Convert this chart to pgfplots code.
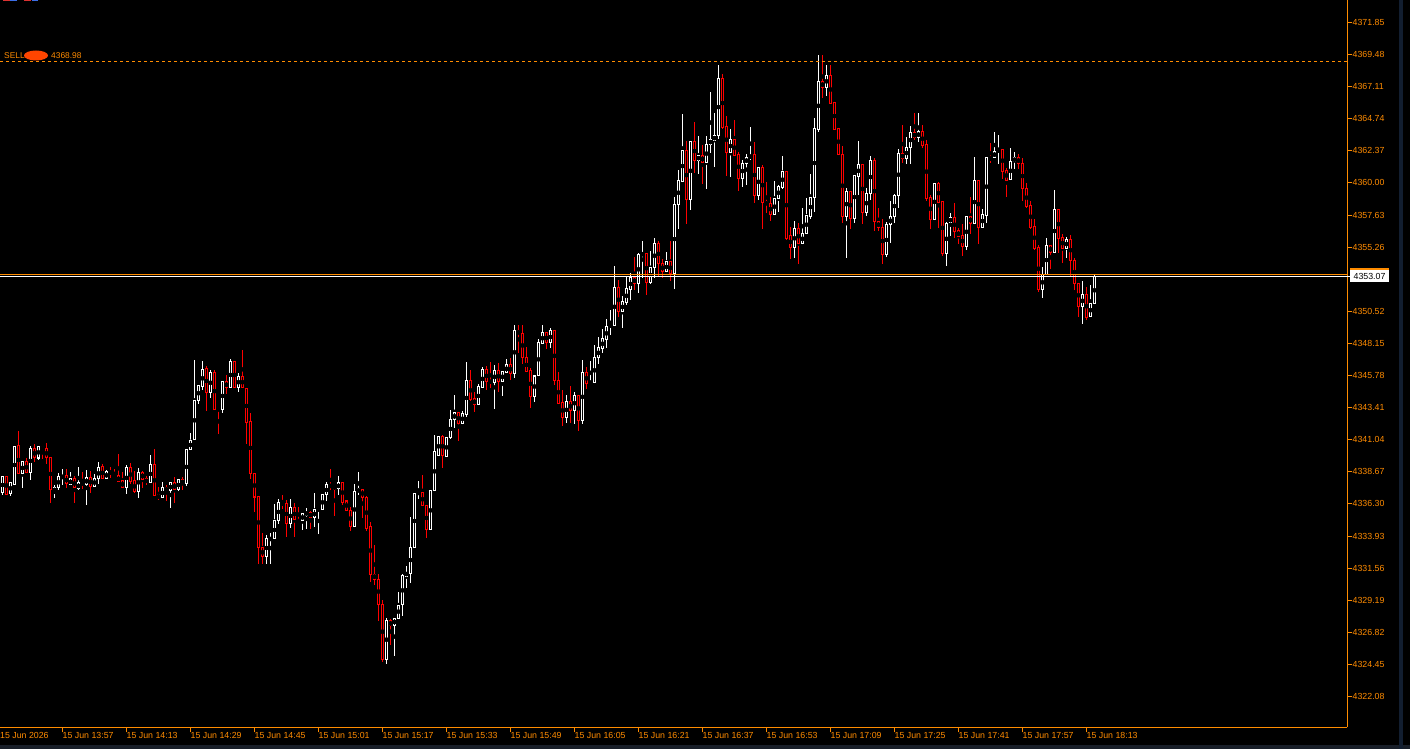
\documentclass[border=0pt]{standalone}
\usepackage{fontspec}
\setmainfont{Liberation Sans}
\usepackage{pgfplots}
\usepackage{pgfplotstable}
\pgfplotsset{compat=1.18}

\definecolor{mtorange}{RGB}{255,140,0}
\definecolor{mtred}{RGB}{255,0,0}
\definecolor{mtstrip}{RGB}{24,30,40}
\definecolor{mtnavy}{RGB}{18,30,48}
\definecolor{mtblot}{RGB}{255,69,0}
\definecolor{btnred}{RGB}{220,50,50}
\definecolor{btnblue}{RGB}{60,110,230}

% one-minute candles, i = minutes after 13:42
\pgfplotstableread{
i o h l c
0 4337.12 4338.37 4337.04 4338.30
1 4338.30 4338.37 4337.04 4337.04
2 4337.04 4337.86 4336.89 4337.86
3 4337.78 4340.59 4337.78 4340.59
4 4340.59 4341.63 4338.52 4338.52
5 4338.52 4339.41 4337.56 4339.41
6 4339.41 4339.63 4338.60 4338.60
7 4338.60 4340.52 4338.08 4340.37
8 4340.37 4340.66 4339.41 4339.70
9 4339.70 4340.52 4339.56 4340.52
10 4340.52 4340.52 4339.70 4340.30
11 4340.37 4340.74 4339.26 4339.70
12 4339.70 4339.70 4336.38 4337.34
13 4337.19 4337.63 4336.75 4337.49
14 4337.49 4338.52 4337.34 4338.30
15 4338.23 4338.82 4337.78 4338.37
16 4338.37 4338.89 4337.56 4337.78
17 4337.71 4338.60 4337.71 4338.15
18 4338.15 4338.30 4336.38 4337.49
19 4337.41 4339.04 4337.41 4337.86
20 4337.86 4338.60 4337.41 4337.78
21 4337.71 4338.74 4336.23 4338.23
22 4338.23 4338.74 4337.19 4337.63
23 4337.63 4338.45 4337.56 4338.15
24 4338.15 4339.33 4337.78 4338.97
25 4339.04 4339.19 4338.15 4338.15
26 4338.15 4338.74 4338.15 4338.67
27 4338.67 4339.04 4338.23 4338.52
28 4338.52 4338.82 4338.23 4338.23
29 4338.37 4339.93 4337.93 4337.93
30 4338.00 4338.60 4337.49 4337.49
31 4337.49 4339.11 4337.04 4338.97
32 4338.97 4339.26 4337.78 4338.00
33 4338.00 4338.67 4337.12 4337.19
34 4337.19 4338.89 4336.75 4338.60
35 4338.60 4338.67 4337.49 4338.15
36 4338.15 4338.30 4337.78 4337.86
37 4337.86 4339.85 4337.86 4339.19
38 4339.19 4340.30 4336.90 4336.90
39 4336.97 4337.49 4336.60 4336.75
40 4336.75 4337.86 4336.75 4337.49
41 4337.49 4337.71 4336.60 4337.27
42 4337.27 4337.86 4336.08 4337.86
43 4337.86 4338.23 4336.38 4337.34
44 4337.34 4338.08 4337.27 4338.08
45 4338.08 4338.23 4337.41 4337.78
46 4337.78 4340.30 4337.63 4340.30
47 4340.30 4341.48 4340.30 4341.03
48 4341.03 4346.87 4341.03 4343.92
49 4343.92 4345.03 4343.69 4345.03
50 4344.95 4346.80 4344.73 4346.21
51 4346.28 4346.43 4343.18 4344.51
52 4344.51 4346.13 4344.14 4345.99
53 4345.99 4346.13 4343.25 4343.25
54 4343.33 4343.33 4341.48 4343.25
55 4343.25 4345.32 4343.03 4345.32
56 4345.32 4345.76 4344.43 4344.88
57 4344.88 4346.95 4344.88 4346.80
58 4346.80 4346.80 4344.88 4344.88
59 4344.88 4345.91 4344.58 4345.69
60 4345.69 4347.61 4344.88 4344.88
61 4344.80 4344.80 4340.74 4342.29
62 4342.36 4342.96 4338.15 4338.52
63 4338.52 4338.52 4335.71 4336.82
64 4336.82 4336.82 4331.94 4333.05
65 4333.05 4334.16 4331.94 4332.39
66 4332.39 4334.01 4331.94 4333.72
67 4333.64 4334.16 4331.94 4333.79
68 4333.72 4336.30 4333.72 4335.05
69 4335.05 4336.67 4334.83 4336.38
70 4336.38 4336.90 4336.01 4336.30
71 4336.30 4336.53 4333.87 4334.83
72 4334.83 4336.60 4334.53 4336.01
73 4336.01 4336.30 4333.87 4335.12
74 4335.12 4336.08 4334.97 4334.97
75 4335.05 4335.57 4334.46 4335.57
76 4335.49 4335.94 4334.46 4335.71
77 4335.71 4335.71 4334.46 4335.27
78 4335.27 4337.04 4334.61 4335.86
79 4335.86 4335.94 4334.16 4335.94
80 4335.86 4336.97 4335.86 4336.97
81 4336.97 4337.86 4336.53 4337.71
82 4337.71 4338.82 4337.34 4337.56
83 4337.63 4337.63 4335.49 4337.41
84 4337.41 4338.37 4337.04 4337.86
85 4337.86 4337.86 4336.30 4336.45
86 4336.53 4336.53 4335.79 4335.86
87 4335.86 4336.08 4334.38 4334.61
88 4334.61 4337.71 4334.61 4337.19
89 4337.19 4338.60 4337.04 4337.41
90 4337.41 4337.41 4335.27 4336.75
91 4336.82 4336.82 4334.31 4334.53
92 4334.61 4334.90 4330.54 4331.13
93 4331.13 4333.27 4330.39 4330.76
94 4330.76 4331.06 4327.73 4328.91
95 4328.91 4329.14 4324.70 4324.85
96 4324.85 4327.88 4324.55 4327.73
97 4327.66 4327.81 4325.96 4327.29
98 4327.29 4327.88 4325.14 4327.88
99 4327.88 4329.80 4327.88 4328.84
100 4328.84 4331.06 4328.03 4330.98
101 4330.98 4331.72 4330.17 4331.28
102 4331.20 4335.27 4330.47 4333.13
103 4333.05 4337.04 4333.05 4337.04
104 4337.04 4337.93 4336.67 4337.19
105 4337.12 4338.37 4336.16 4336.16
106 4336.16 4336.16 4333.87 4334.38
107 4334.38 4337.27 4334.38 4337.27
108 4337.27 4341.40 4337.27 4340.15
109 4339.85 4341.26 4339.85 4341.26
110 4341.26 4341.33 4338.97 4339.85
111 4339.78 4341.18 4339.78 4341.18
112 4341.18 4343.18 4341.11 4342.51
113 4342.51 4344.29 4341.92 4343.03
114 4343.03 4343.03 4340.96 4342.22
115 4342.22 4343.10 4342.22 4342.96
116 4342.88 4346.73 4342.73 4345.40
117 4345.40 4346.13 4343.92 4343.99
118 4344.07 4344.51 4343.10 4343.62
119 4343.62 4345.10 4343.62 4344.95
120 4344.88 4346.36 4344.88 4346.21
121 4346.21 4346.43 4344.73 4345.32
122 4345.40 4346.73 4344.88 4345.25
123 4345.25 4346.50 4343.33 4346.13
124 4346.13 4346.65 4344.58 4345.32
125 4345.32 4346.06 4344.29 4346.06
126 4345.99 4346.95 4345.99 4346.58
127 4346.58 4347.02 4345.47 4345.91
128 4345.91 4349.46 4345.62 4349.09
129 4349.09 4349.46 4347.46 4348.87
130 4348.94 4349.46 4346.65 4347.10
131 4347.10 4347.83 4346.06 4346.06
132 4346.13 4346.28 4343.47 4344.21
133 4344.21 4345.76 4343.84 4345.76
134 4345.76 4348.42 4345.76 4348.20
135 4348.13 4349.46 4348.13 4348.94
136 4348.94 4348.94 4347.76 4348.20
137 4348.20 4349.24 4347.83 4349.09
138 4349.09 4349.09 4345.10 4345.40
139 4345.40 4345.99 4343.69 4343.69
140 4343.77 4344.66 4342.07 4342.66
141 4342.66 4344.29 4342.29 4343.84
142 4343.84 4344.95 4342.29 4343.18
143 4343.18 4344.51 4342.22 4344.29
144 4344.29 4344.29 4341.70 4342.44
145 4342.44 4346.87 4342.22 4345.99
146 4345.99 4346.36 4344.80 4345.17
147 4345.17 4346.80 4345.17 4345.32
148 4345.25 4347.98 4345.25 4347.10
149 4347.10 4348.57 4346.65 4347.83
150 4347.76 4349.16 4347.46 4348.50
151 4348.42 4349.90 4347.83 4349.39
152 4349.39 4350.57 4348.79 4349.53
153 4349.46 4353.82 4349.46 4352.27
154 4352.27 4352.79 4350.12 4350.49
155 4350.49 4351.60 4349.31 4351.23
156 4351.16 4353.01 4351.01 4352.19
157 4352.12 4353.30 4351.38 4353.01
158 4353.01 4354.49 4352.12 4352.56
159 4352.56 4354.78 4351.90 4354.71
160 4354.71 4355.67 4353.01 4354.78
161 4354.78 4354.78 4351.75 4352.64
162 4352.64 4354.93 4352.56 4353.75
163 4353.75 4355.89 4353.01 4355.52
164 4355.52 4355.67 4353.16 4354.04
165 4354.04 4354.34 4353.01 4353.45
166 4353.45 4354.86 4353.45 4354.19
167 4354.19 4355.67 4352.79 4353.30
168 4353.30 4358.92 4352.19 4358.40
169 4358.40 4360.92 4356.63 4360.18
170 4360.10 4365.05 4360.10 4362.39
171 4362.39 4363.06 4357.00 4358.77
172 4358.77 4363.06 4358.03 4363.06
173 4363.06 4364.46 4360.77 4361.65
174 4361.65 4363.43 4360.69 4362.02
175 4362.02 4362.76 4359.95 4361.51
176 4361.51 4363.43 4359.58 4362.84
177 4362.84 4366.68 4362.25 4363.21
178 4363.13 4365.13 4361.21 4363.50
179 4363.50 4368.68 4363.28 4367.72
180 4367.72 4368.01 4364.02 4364.09
181 4364.17 4364.91 4360.55 4362.25
182 4362.25 4363.95 4360.47 4363.21
183 4363.21 4364.61 4362.02 4362.02
184 4362.10 4362.25 4359.44 4360.32
185 4360.32 4361.65 4359.73 4361.43
186 4361.43 4362.10 4359.88 4361.88
187 4361.88 4364.09 4361.73 4362.02
188 4362.10 4362.99 4358.55 4359.07
189 4359.07 4361.14 4358.77 4361.14
190 4361.14 4361.28 4356.63 4358.55
191 4358.62 4360.03 4357.81 4358.40
192 4358.48 4358.92 4357.22 4357.66
193 4357.66 4360.10 4357.66 4358.85
194 4358.85 4359.81 4357.89 4359.73
195 4359.66 4361.95 4359.58 4360.84
196 4360.84 4360.84 4355.82 4355.89
197 4356.11 4356.70 4354.41 4355.22
198 4355.22 4357.15 4354.49 4356.63
199 4356.63 4357.00 4354.04 4355.52
200 4355.52 4358.11 4355.52 4356.26
201 4356.26 4358.85 4356.26 4357.59
202 4357.52 4360.62 4357.37 4358.92
203 4358.92 4364.76 4357.89 4364.02
204 4363.95 4369.41 4363.80 4367.49
205 4367.49 4369.41 4366.31 4367.05
206 4367.05 4368.68 4366.46 4367.94
207 4367.94 4368.68 4365.87 4365.87
208 4365.94 4365.94 4363.95 4363.95
209 4364.02 4364.02 4362.10 4362.10
210 4362.10 4362.69 4357.07 4357.52
211 4357.52 4359.58 4354.49 4359.36
212 4359.36 4359.36 4356.63 4357.37
213 4357.37 4360.55 4357.07 4360.55
214 4360.47 4363.06 4359.14 4361.36
215 4361.36 4361.36 4357.00 4357.81
216 4357.81 4359.58 4357.59 4359.22
217 4359.22 4361.95 4358.77 4361.65
218 4361.65 4361.80 4356.48 4357.15
219 4357.15 4358.11 4356.48 4356.70
220 4356.70 4357.29 4354.04 4354.71
221 4354.71 4357.07 4354.56 4356.92
222 4356.92 4358.62 4355.59 4357.52
223 4357.52 4359.14 4357.07 4359.07
224 4359.07 4362.47 4358.18 4362.17
225 4362.17 4364.24 4361.51 4361.80
226 4361.80 4363.36 4361.43 4362.62
227 4362.62 4364.17 4361.43 4363.72
228 4363.72 4365.13 4363.21 4363.36
229 4363.36 4365.13 4363.06 4363.80
230 4363.80 4364.24 4362.62 4362.76
231 4362.84 4363.13 4358.70 4358.85
232 4358.92 4359.07 4356.63 4357.29
233 4357.29 4359.95 4357.29 4359.95
234 4359.95 4360.03 4356.70 4358.55
235 4358.62 4358.62 4354.63 4354.78
236 4354.78 4357.07 4353.89 4357.00
237 4357.07 4357.74 4356.11 4357.44
238 4357.44 4358.48 4355.96 4356.41
239 4356.48 4356.63 4355.52 4356.04
240 4356.11 4356.92 4354.63 4355.30
241 4355.30 4357.52 4355.08 4357.52
242 4357.52 4358.92 4356.26 4357.00
243 4357.00 4361.88 4357.00 4360.18
244 4360.18 4360.18 4355.52 4356.70
245 4356.70 4358.03 4356.70 4357.66
246 4357.59 4361.88 4357.07 4361.88
247 4361.88 4362.91 4361.51 4361.73
248 4361.88 4363.72 4361.88 4362.32
249 4362.32 4363.50 4361.43 4362.47
250 4362.47 4362.47 4360.32 4360.84
251 4360.92 4361.06 4358.99 4360.18
252 4360.25 4362.54 4360.25 4361.58
253 4361.58 4362.25 4361.06 4361.88
254 4361.88 4362.10 4361.06 4361.43
255 4361.43 4361.80 4358.70 4359.58
256 4359.58 4359.95 4358.18 4358.26
257 4358.33 4358.62 4356.63 4356.70
258 4356.78 4357.29 4355.08 4355.15
259 4355.22 4355.37 4351.97 4352.12
260 4352.12 4353.75 4351.53 4353.23
261 4353.23 4355.89 4353.23 4355.37
262 4355.37 4355.37 4353.67 4354.86
263 4354.86 4359.44 4354.86 4358.03
264 4358.03 4358.03 4354.86 4355.89
265 4355.96 4356.19 4354.12 4355.15
266 4355.15 4355.96 4354.49 4355.82
267 4355.82 4356.11 4353.16 4354.26
268 4354.26 4354.41 4352.12 4352.56
269 4352.56 4352.56 4350.12 4350.86
270 4350.86 4352.71 4349.61 4351.75
271 4351.75 4352.27 4349.90 4350.05
272 4350.12 4352.42 4350.12 4351.09
273 4351.09 4353.23 4351.09 4353.07
}\candles

\newcommand{\mtfont}{\fontsize{8.8}{10}\selectfont}

\begin{document}
\begin{tikzpicture}
\useasboundingbox (0pt,0pt) rectangle (1410pt,749pt);
\fill[black] (0pt,0pt) rectangle (1410pt,749pt);
\fill[mtstrip] (0pt,0pt) rectangle (1410pt,4pt);
\fill[mtnavy] (1399pt,0pt) rectangle (1403pt,749pt);
% cut-off buttons at the top left
\fill[btnred] (3pt,747.5pt) rectangle (10pt,749pt);
\fill[btnblue] (10pt,747.5pt) rectangle (17pt,749pt);
\fill[btnred] (24pt,747.5pt) rectangle (31pt,749pt);
\fill[btnblue] (32pt,747.5pt) rectangle (38pt,749pt);

\begin{axis}[
    at={(0pt,21.5pt)}, anchor=south west,
    scale only axis, width=1347.5pt, height=727.5pt,
    xmin=-0.625, xmax=336.25,
    ymin=4319.79, ymax=4373.51,
    axis x line*=bottom, axis y line*=right,
    axis line style={draw=mtorange, line width=1pt, -},
    clip mode=individual,
    tick align=outside,
    major tick length=5pt,
    tick style={draw=mtorange, line width=1pt},
    scaled y ticks=false,
    ytick={4322.08,4324.45,4326.82,4329.19,4331.56,4333.93,4336.30,4338.67,
           4341.04,4343.41,4345.78,4348.15,4350.52,4355.26,4357.63,4360.00,
           4362.37,4364.74,4367.11,4369.48,4371.85},
    y tick label style={anchor=west, inner sep=0pt, text=mtorange, font=\mtfont,
        /pgf/number format/.cd, fixed, fixed zerofill, precision=2, 1000 sep={},
        assume math mode=true},
    xtick={15,31,...,271},
    xticklabels={15 Jun 13:57,15 Jun 14:13,15 Jun 14:29,15 Jun 14:45,15 Jun 15:01,
                 15 Jun 15:17,15 Jun 15:33,15 Jun 15:49,15 Jun 16:05,15 Jun 16:21,
                 15 Jun 16:37,15 Jun 16:53,15 Jun 17:09,15 Jun 17:25,15 Jun 17:41,
                 15 Jun 17:57,15 Jun 18:13},
    x tick label style={anchor=north west, inner sep=0pt, text=mtorange, font=\mtfont},
    extra x ticks={-0.625},
    extra x tick labels={15 Jun 2026},
    extra x tick style={major tick length=0pt,
        xticklabel style={yshift=-5pt}},
]
% wicks
\addplot[only marks, mark=none,
    restrict expr to domain={\thisrow{c}-\thisrow{o}}{0:1000},
    error bars/.cd, y dir=both, y explicit, error mark=none,
    error bar style={draw=white, line width=1pt}]
    table[x=i, y expr={(\thisrow{h}+\thisrow{l})/2},
          y error expr={(\thisrow{h}-\thisrow{l})/2+0.037}] {\candles};
\addplot[only marks, mark=none,
    restrict expr to domain={\thisrow{c}-\thisrow{o}}{-1000:-0.001},
    error bars/.cd, y dir=both, y explicit, error mark=none,
    error bar style={draw=mtred, line width=1pt}]
    table[x=i, y expr={(\thisrow{h}+\thisrow{l})/2},
          y error expr={(\thisrow{h}-\thisrow{l})/2+0.037}] {\candles};
% bodies
\addplot[only marks, mark=none,
    restrict expr to domain={\thisrow{c}-\thisrow{o}}{0:1000},
    error bars/.cd, y dir=both, y explicit, error mark=none,
    error bar style={draw=white, line width=3pt}]
    table[x=i, y expr={(\thisrow{o}+\thisrow{c})/2},
          y error expr={abs(\thisrow{c}-\thisrow{o})/2+0.037}] {\candles};
\addplot[only marks, mark=none,
    restrict expr to domain={\thisrow{c}-\thisrow{o}}{-1000:-0.001},
    error bars/.cd, y dir=both, y explicit, error mark=none,
    error bar style={draw=mtred, line width=3pt}]
    table[x=i, y expr={(\thisrow{o}+\thisrow{c})/2},
          y error expr={abs(\thisrow{c}-\thisrow{o})/2+0.037}] {\candles};
% hollow inside
\addplot[only marks, mark=none,
    error bars/.cd, y dir=both, y explicit, error mark=none,
    error bar style={draw=black, line width=1pt}]
    table[x=i, y expr={(\thisrow{o}+\thisrow{c})/2},
          y error expr={max(abs(\thisrow{c}-\thisrow{o})/2-0.037,0)}] {\candles};
% price lines
\addplot[mtorange, line width=1pt, dash pattern=on 3pt off 3pt]
    coordinates {(-0.625,4368.98) (336.25,4368.98)};
\addplot[mtorange, line width=1pt] coordinates {(-0.625,4353.22) (336.25,4353.22)};
\addplot[white, line width=1pt] coordinates {(-0.625,4353.07) (336.25,4353.07)};
\end{axis}

% sell order label
\node[anchor=base west, inner sep=0pt, text=mtorange, font=\fontsize{8.4}{10}\selectfont]
    at (4pt,690pt) {SELL};
\fill[mtblot] (36pt,693.5pt) ellipse (12pt and 5pt);
\node[anchor=base west, inner sep=0pt, text=mtorange, font=\fontsize{8.4}{10}\selectfont]
    at (51pt,690pt) {4368.98};

% current bid label
\draw[white, line width=1pt] (1347pt,472.5pt) -- (1350pt,472.5pt);
\fill[white] (1350pt,467pt) rectangle (1389pt,481pt);
\fill[mtorange] (1350pt,479pt) rectangle (1389pt,481pt);
\node[text=black, inner sep=0pt, font=\mtfont] at (1369.5pt,473pt) {4353.07};
\end{tikzpicture}
\end{document}
